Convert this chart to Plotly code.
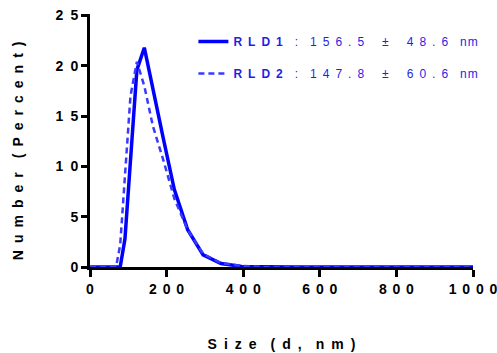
import plotly.graph_objects as go

sizes = [0.4, 43.82, 50.75, 58.77, 68.06, 78.82, 91.28, 105.7, 122.4, 141.8, 164.2,
         190.1, 220.2, 255.0, 295.3, 342.0, 396.1, 458.7, 531.2, 615.1, 712.4,
         825.0, 955.4, 1106.0]
rld1 = [0, 0, 0, 0, 0, 0, 2.8, 11.0, 19.6, 21.8, 17.6, 13.0, 7.7, 3.7, 1.2, 0.35, 0.05,
        0, 0, 0, 0, 0, 0, 0]
rld2 = [0, 0, 0, 0, 0, 2.2, 9.5, 17.0, 20.4, 18.0, 14.0, 10.8, 6.8, 3.7, 1.3, 0.4, 0.1,
        0, 0, 0, 0, 0, 0, 0]
x_ticks = [0, 200, 400, 600, 800, 1000]
y_ticks = [0, 5, 10, 15, 20, 25]

G = "\u2002"            # en space used as letter spacing
GX = "\u2005\u2006"     # slightly narrower spacing for x tick labels


def spaced(s, gap=G):
    return gap.join(s)


def legend_name(label, mean, sd):
    return ("<b>" + spaced(label) + "</b>" + G + G + ":" + G + G + spaced(mean) + G + G + G + "±"
            + G + G + G + spaced(sd) + G + G + spaced("nm", "\u200a"))


names = [legend_name("RLD1", "156.5", "48.6"), legend_name("RLD2", "147.8", "60.6")]
x_ticktext = [spaced(str(v), GX) for v in x_ticks]
y_ticktext = [spaced(str(v)) for v in y_ticks]

FONT = "Liberation Sans, Arial, sans-serif"

fig = go.Figure()
fig.add_trace(go.Scatter(x=sizes, y=rld1, mode="lines", name=names[0], legendgroup="a",
                         line=dict(color="#0000ff", width=3.5)))
fig.add_trace(go.Scatter(x=sizes, y=rld2, mode="lines", name=names[1], legendgroup="b",
                         line=dict(color="#3a3aff", width=2.5, dash="6px,4px")))

fig.update_layout(
    width=497, height=353,
    margin=dict(l=90, r=24, t=14, b=86),
    plot_bgcolor="white", paper_bgcolor="white",
    font=dict(family=FONT, color="black"),
    showlegend=True,
    legend=dict(x=0.27, y=0.949, xanchor="left", yanchor="top",
                bgcolor="rgba(0,0,0,0)", font=dict(size=12, color="#1f1fe6", family=FONT),
                tracegroupgap=13, itemwidth=30),
    xaxis=dict(range=[0, 1000], tickvals=x_ticks, ticktext=x_ticktext, automargin=False,
               ticklabeloverflow="allow",
               showgrid=False, zeroline=False, showline=True, linecolor="black", linewidth=3,
               ticks="outside", ticklen=7, tickwidth=3, tickcolor="black",
               tickfont=dict(size=14, family=FONT, weight="bold"),
               title=dict(text="<b>" + spaced("Size") + G + G + spaced("(d,") + G + G + spaced("nm)") + "</b>",
                          font=dict(size=14), standoff=44)),
    yaxis=dict(range=[0, 25.15], tickvals=y_ticks, ticktext=y_ticktext, automargin=False,
               ticklabeloverflow="allow",
               showgrid=False, zeroline=False, showline=True, linecolor="black", linewidth=3,
               ticks="outside", ticklen=6, tickwidth=3, tickcolor="black",
               tickfont=dict(size=14, family=FONT, weight="bold")),
    annotations=[dict(text="<b>" + spaced("Number") + G + G + spaced("(Percent)") + "</b>",
                      textangle=-90, xref="paper", yref="paper", x=0, y=0.458,
                      xanchor="center", yanchor="middle", xshift=-72, showarrow=False,
                      font=dict(size=14, family=FONT, color="black"))],
)

fig.write_html("out.html", config={"displayModeBar": False},
               post_script="document.body.style.margin='0';document.body.style.overflow='hidden';")
